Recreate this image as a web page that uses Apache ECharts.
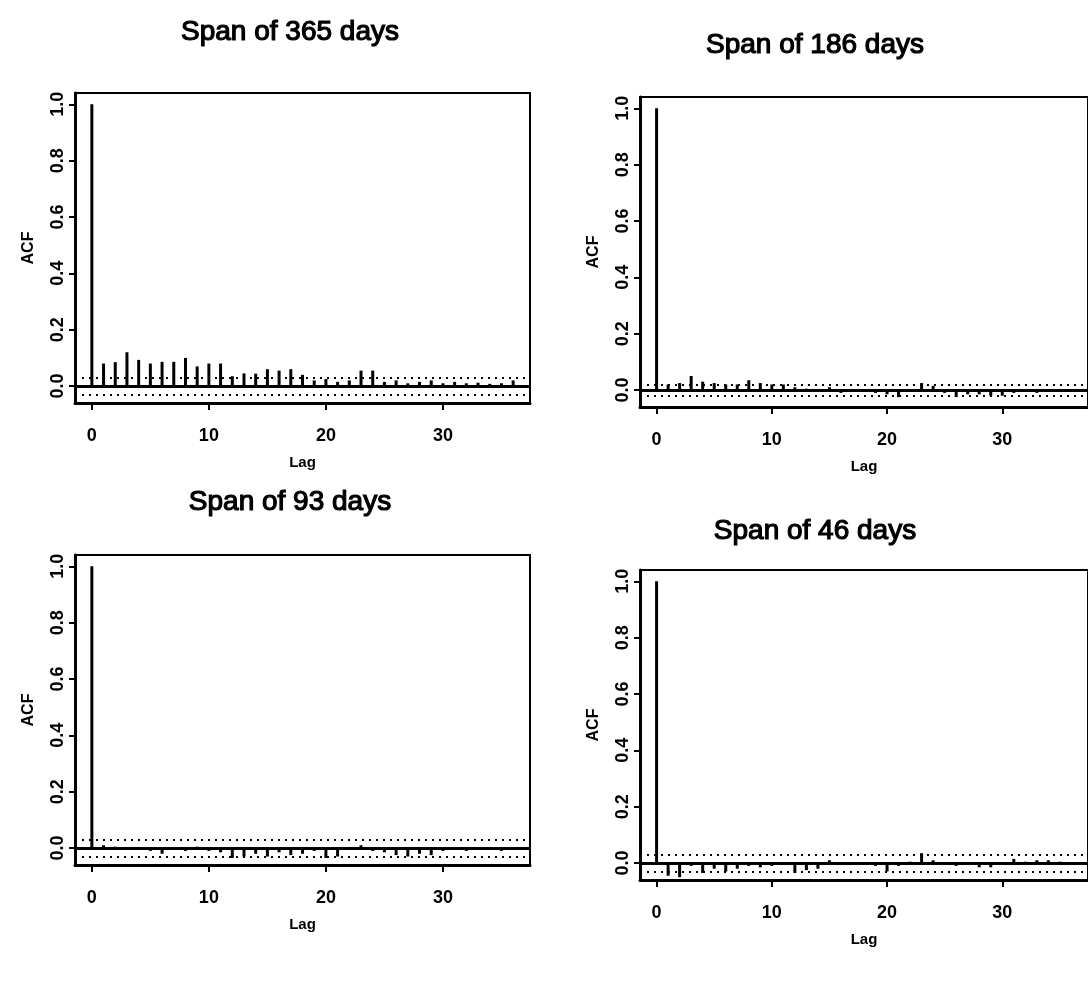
<!DOCTYPE html>
<html lang="en">
<head>
    <meta charset="UTF-8">
    <title>ACF by span</title>
    <script src="https://cdn.jsdelivr.net/npm/echarts@6/dist/echarts.min.js"></script>
    <style>
        html, body { margin: 0; padding: 0; background: #fff; }
        #chart { width: 1088px; height: 981px; }
    </style>
</head>
<body>
<div id="chart"></div>
<script>
    // lags 0..36, acf values
    const lags = [0, 1, 2, 3, 4, 5, 6, 7, 8, 9, 10, 11, 12, 13, 14, 15, 16, 17, 18,
        19, 20, 21, 22, 23, 24, 25, 26, 27, 28, 29, 30, 31, 32, 33, 34, 35, 36];
    const titles = ['Span of 365 days', 'Span of 186 days', 'Span of 93 days', 'Span of 46 days'];
    const acf365 = [1, 0.08, 0.085, 0.12, 0.093, 0.08, 0.086, 0.086, 0.1, 0.07, 0.08, 0.08,
        0.035, 0.045, 0.044, 0.06, 0.055, 0.06, 0.04, 0.02, 0.025, 0.015, 0.02, 0.055, 0.055,
        0.015, 0.02, 0.01, 0.015, 0.02, 0.01, 0.015, 0.01, 0.012, 0.008, 0.01, 0.02];
    const acf186 = [1, 0.02, 0.025, 0.05, 0.03, 0.025, 0.02, 0.02, 0.035, 0.025, 0.02, 0.02,
        0.01, 0.005, -0.005, 0.01, -0.01, -0.005, 0, -0.01, -0.015, -0.025, -0.005, 0.025,
        0.015, -0.01, -0.025, -0.015, -0.015, -0.02, -0.02, -0.01, -0.005, -0.01, 0, -0.005, 0];
    const acf93 = [1, 0.01, 0.005, -0.005, 0, -0.01, -0.02, -0.005, -0.01, 0.005, -0.01, -0.015,
        -0.035, -0.03, -0.02, -0.03, -0.015, -0.025, -0.02, -0.01, -0.035, -0.03, -0.005, 0.01,
        -0.01, -0.015, -0.025, -0.03, -0.02, -0.025, -0.01, -0.005, -0.01, 0, -0.005, -0.01, -0.005];
    const acf46 = [1, -0.045, -0.05, -0.01, -0.035, -0.02, -0.03, -0.02, -0.01, -0.015, -0.01,
        -0.005, -0.035, -0.025, -0.02, 0.01, 0, -0.005, 0, -0.01, -0.03, -0.01, 0.005, 0.035,
        0.01, 0, -0.01, -0.005, -0.015, -0.015, -0.005, 0.015, 0.005, 0.01, 0.01, 0.005, 0];
    const ciBounds = [0.03, 0.02, 0.03, 0.03];
    const xTicks = [0, 10, 20, 30];
    const yTicks = [0, 0.2, 0.4, 0.6, 0.8, 1.0];

    const allAcf = [acf365, acf186, acf93, acf46];

    // panel boxes [left, top, width, height] and title centres
    const boxes = [
        [75, 93, 455, 310],
        [640, 97, 455, 310],
        [75, 555, 455, 310],
        [640, 570, 455, 310]
    ];
    const titlePos = [[290, 32], [815, 45], [290, 502], [815, 531]];

    const font = 'Liberation Sans, Arial, sans-serif';

    let grids = [], xAxes = [], yAxes = [], series = [], texts = [];
    boxes.forEach((b, i) => {
        grids.push({
            left: b[0], top: b[1], width: b[2], height: b[3],
            show: true, borderColor: '#000', borderWidth: 2, backgroundColor: 'transparent'
        });
        xAxes.push({
            type: 'value', gridIndex: i, min: -1.44, max: 37.44,
            axisLine: {show: true, onZero: false, lineStyle: {color: '#000', width: 3}},
            axisTick: {show: true, customValues: xTicks, length: 7, lineStyle: {color: '#000', width: 2}},
            axisLabel: {customValues: xTicks, color: '#000', fontFamily: font, fontWeight: 'bold', fontSize: 18, margin: 24},
            splitLine: {show: false},
            name: 'Lag', nameLocation: 'middle', nameGap: 52,
            nameTextStyle: {color: '#000', fontFamily: font, fontWeight: 'bold', fontSize: 15}
        });
        yAxes.push({
            type: 'value', gridIndex: i, min: -0.06, max: 1.04,
            axisLine: {show: true, onZero: false, lineStyle: {color: '#000', width: 3}},
            axisTick: {show: true, customValues: yTicks, length: 6, lineStyle: {color: '#000', width: 2}},
            axisLabel: {
                customValues: yTicks, rotate: 90, color: '#000', fontFamily: font,
                fontWeight: 'bold', fontSize: 18, margin: 8,
                formatter: v => v.toFixed(1)
            },
            splitLine: {show: false},
            name: 'ACF', nameLocation: 'middle', nameGap: 38, nameRotate: 90,
            nameTextStyle: {color: '#000', fontFamily: font, fontWeight: 'bold', fontSize: 16}
        });
        const ci = ciBounds[i];
        series.push({
            type: 'bar', xAxisIndex: i, yAxisIndex: i,
            data: lags.map((l, k) => [l, allAcf[i][k]]),
            barWidth: 3,
            itemStyle: {color: '#000'},
            silent: true,
            markLine: {
                silent: true, symbol: 'none', label: {show: false},
                data: [
                    {yAxis: 0, lineStyle: {type: 'solid', width: 3, color: '#000'}},
                    {yAxis: ci, lineStyle: {type: [2, 5], width: 2, color: '#000'}},
                    {yAxis: -ci, lineStyle: {type: [2, 5], width: 2, color: '#000'}}
                ]
            }
        });
        texts.push({
            type: 'text', x: titlePos[i][0], y: titlePos[i][1],
            style: {
                text: titles[i], fill: '#000', stroke: '#000', lineWidth: 1.2,
                font: 'normal 28px ' + font, textAlign: 'center', textVerticalAlign: 'middle'
            }
        });
    });

    let myChart = echarts.init(document.getElementById('chart'), null, {renderer: 'canvas'});
    myChart.setOption({
        animation: false,
        grid: grids,
        xAxis: xAxes,
        yAxis: yAxes,
        series: series,
        graphic: texts
    });
</script>
</body>
</html>
